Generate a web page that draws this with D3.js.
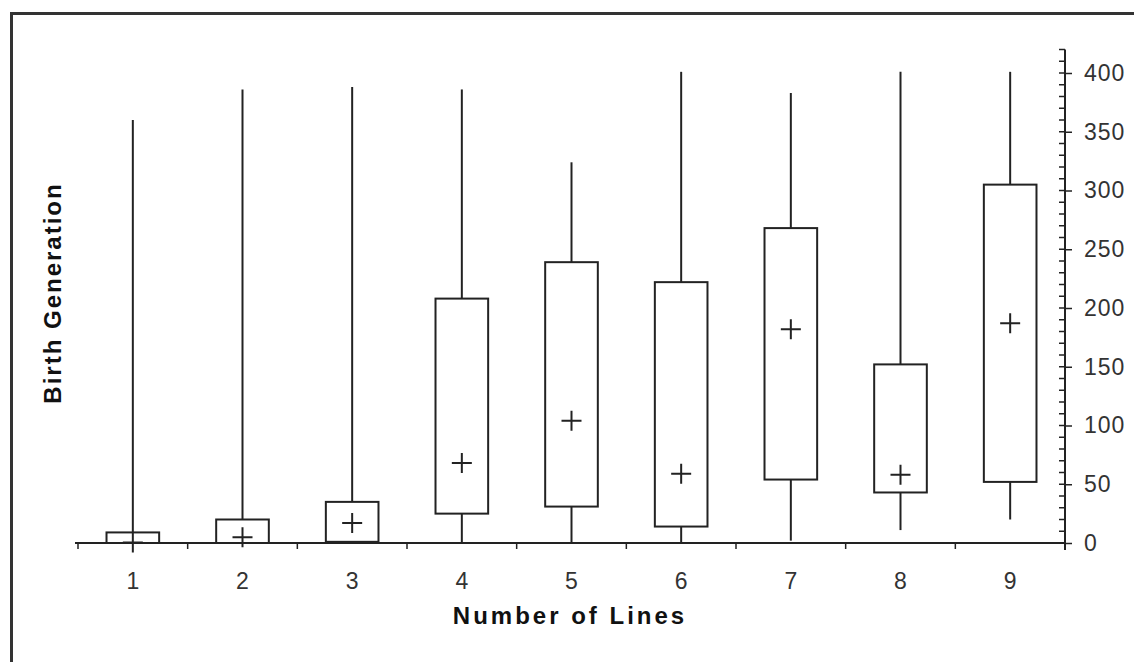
<!DOCTYPE html>
<html>
<head>
<meta charset="utf-8">
<script src="https://cdn.jsdelivr.net/npm/d3@7"></script>
<style>
  body { margin: 0; background: #fff; }
  text { font-family: "Liberation Sans", Arial, sans-serif; }
</style>
</head>
<body>
<svg id="vis_box" width="1134" height="662"></svg>
<script>
// Box plot: birth generation by number of lines

var categories = [1, 2, 3, 4, 5, 6, 7, 8, 9];
var whiskerLow  = [0, 0, 1, 0, 0, 0, 2, 11, 20];
var boxLow      = [0, 0, 1, 25, 31, 14, 54, 43, 52];
var boxHigh     = [9, 20, 35, 208, 239, 222, 268, 152, 305];
var whiskerHigh = [360, 386, 388, 386, 324, 401, 383, 401, 401];
var means       = [0.5, 5, 17, 68, 104, 59, 182, 58, 187];
var yTicks      = [0, 50, 100, 150, 200, 250, 300, 350, 400];

function vis_boxplot() {
var svg = d3.select("#vis_box"),
  width = 1134,
  height = 662;

var x = d3.scaleBand()
    .domain(categories)
    .range([78, 1065]);

var y = d3.scaleLinear()
    .domain([0, 400])
    .range([543, 73]);

var boxW = x.bandwidth() * 0.48;
var ink = "#222";

// frame (only top and left edges show)
svg.append("path")
  .attr("d", "M11.5," + height + "V13.5H" + width)
  .attr("fill", "none")
  .attr("stroke", "#333")
  .attr("stroke-width", 3);

var rows = categories.map(function(c, i) {
  return { cat: c, lo: whiskerLow[i], q1: boxLow[i], q3: boxHigh[i], hi: whiskerHigh[i], mean: means[i] };
});

var g = svg.append("g");
var item = g.selectAll("g")
  .data(rows)
  .enter()
  .append("g")
    .attr("transform", function(d) { return "translate(" + (x(d.cat) + x.bandwidth() / 2) + ",0)"; });

// whiskers
item.append("line")
  .attr("y1", function(d) { return y(d.q3); })
  .attr("y2", function(d) { return y(d.hi); })
  .attr("stroke", ink).attr("stroke-width", 2);
item.append("line")
  .attr("y1", function(d) { return y(d.lo); })
  .attr("y2", function(d) { return y(d.q1); })
  .attr("stroke", ink).attr("stroke-width", 2);

// boxes
item.append("rect")
  .attr("x", -boxW / 2)
  .attr("width", boxW)
  .attr("y", function(d) { return y(d.q3); })
  .attr("height", function(d) { return y(d.q1) - y(d.q3); })
  .attr("fill", "none")
  .attr("stroke", ink)
  .attr("stroke-width", 2);

// mean markers
item.append("path")
  .attr("d", function(d) {
    var m = y(d.mean);
    return "M-10," + m + "H10M0," + (m - 10) + "V" + (m + 10);
  })
  .attr("stroke", ink)
  .attr("stroke-width", 2);

// x axis
svg.append("line")
  .attr("x1", 75).attr("x2", 1065)
  .attr("y1", y(0)).attr("y2", y(0))
  .attr("stroke", ink).attr("stroke-width", 2);

var bounds = categories.map(function(c) { return x(c); });
svg.append("g").selectAll("line")
  .data(bounds)
  .enter()
  .append("line")
    .attr("x1", function(d) { return d; })
    .attr("x2", function(d) { return d; })
    .attr("y1", y(0)).attr("y2", y(0) + 6)
    .attr("stroke", ink).attr("stroke-width", 1.5);

svg.append("g").selectAll("text")
  .data(categories)
  .enter()
  .append("text")
    .attr("x", function(d) { return x(d) + x.bandwidth() / 2; })
    .attr("y", 589)
    .attr("text-anchor", "middle")
    .style("font-size", "23px")
    .style("fill", "#333")
    .text(function(d) { return d; });

// y axis on the right
var yAxis = d3.axisRight(y)
    .tickValues(yTicks)
    .tickSize(7)
    .tickPadding(12);

var ya = svg.append("g")
  .attr("transform", "translate(1065,0)")
  .call(yAxis);
ya.select(".domain").remove();
ya.selectAll(".tick line").attr("stroke", ink).attr("stroke-width", 1.5);
ya.selectAll(".tick text")
  .style("font-size", "23px")
  .style("font-family", "Liberation Sans, Arial, sans-serif")
  .style("letter-spacing", "1px")
  .style("fill", "#333");

// minor ticks pointing inward
var minor = d3.range(0, 421, 10);
ya.append("g").selectAll("line")
  .data(minor)
  .enter()
  .append("line")
    .attr("x1", -6).attr("x2", 0)
    .attr("y1", function(d) { return y(d); })
    .attr("y2", function(d) { return y(d); })
    .attr("stroke", ink).attr("stroke-width", 1.5);

ya.append("line")
  .attr("x1", 0).attr("x2", 0)
  .attr("y1", y(420)).attr("y2", y(-6))
  .attr("stroke", ink).attr("stroke-width", 2);

// axis titles
svg.append("text")
  .attr("x", 570)
  .attr("y", 624)
  .attr("text-anchor", "middle")
  .style("font-size", "24px")
  .style("font-weight", "bold")
  .style("letter-spacing", "3px")
  .style("fill", "#111")
  .text("Number of Lines");

svg.append("text")
  .attr("transform", "translate(61,293) rotate(-90)")
  .attr("text-anchor", "middle")
  .style("font-size", "24px")
  .style("font-weight", "bold")
  .style("letter-spacing", "2px")
  .style("fill", "#111")
  .text("Birth Generation");

} // end vis_boxplot

vis_boxplot();
</script>
</body>
</html>
